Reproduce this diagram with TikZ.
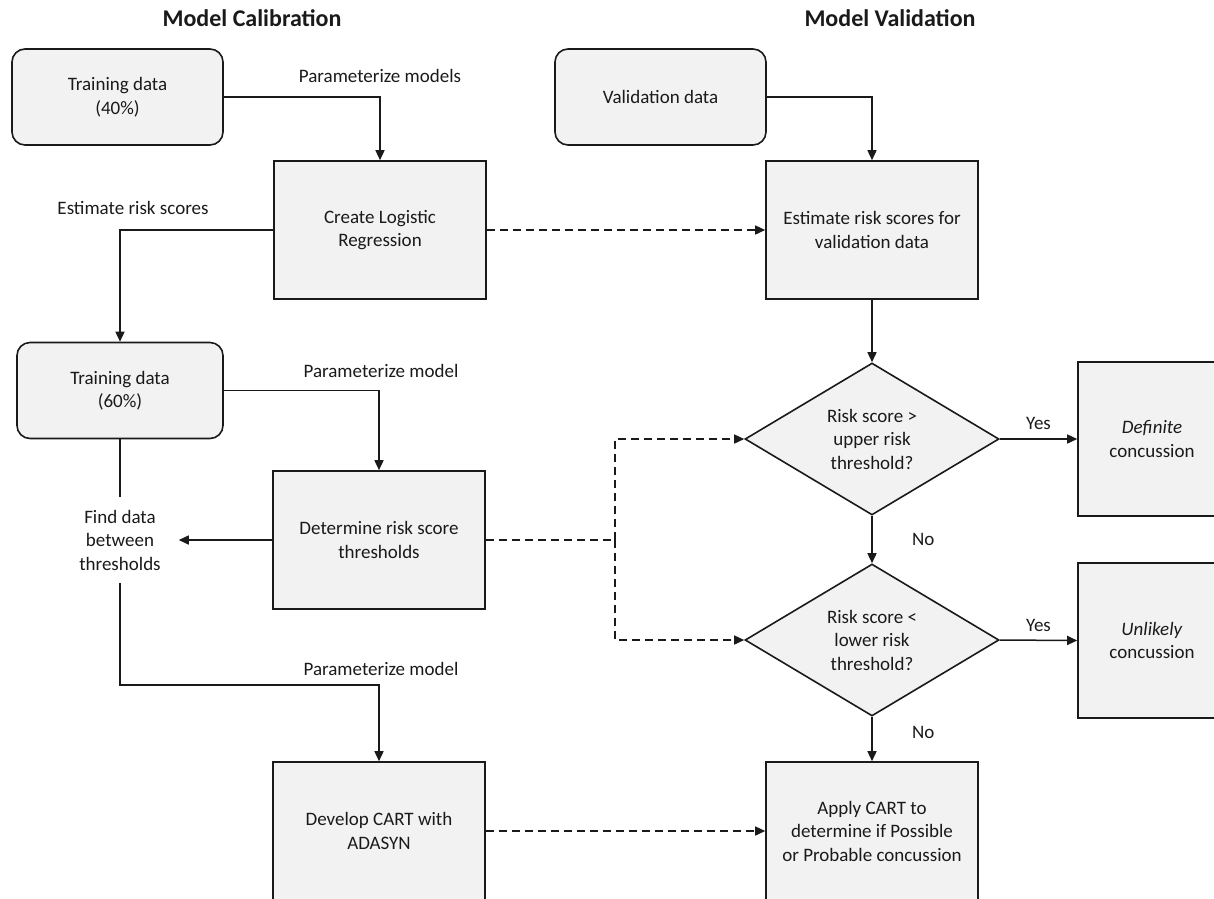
\documentclass[tikz,border=0pt]{standalone}
\usepackage{fontspec}
\setmainfont{Carlito}
\usetikzlibrary{arrows.meta,shapes.geometric}
\definecolor{boxgray}{HTML}{F2F2F2}
\definecolor{inkline}{HTML}{1A1A1A}

\begin{document}
\begin{tikzpicture}[x=1pt,y=-1pt,>={Triangle[length=10pt,width=9pt]},
  color=inkline,line width=1.5pt,
  every node/.style={font=\fontsize{19}{23.5}\selectfont},
  datanode/.style={draw,line width=1.6pt,fill=boxgray,rounded corners=13pt,
    minimum height=96pt,align=center},
  procbox/.style={draw,line width=1.6pt,fill=boxgray,minimum width=212pt,
    minimum height=138pt,align=center},
  endbox/.style={draw,line width=1.6pt,fill=boxgray,minimum width=148pt,
    minimum height=154pt,align=center},
  decision/.style={diamond,draw,line width=1.6pt,fill=boxgray,aspect=1.67,
    minimum width=254pt,minimum height=152pt,inner sep=0pt,align=center},
  title/.style={font=\fontsize{24}{28}\selectfont\bfseries},
  dashline/.style={dash pattern=on 8pt off 5pt}]
\clip (0,0) rectangle (1214,898);

\node[title] (calib) at (252,18) {Model Calibration};
\node[title] (valid) at (890,18) {Model Validation};

% calibration side
\node[datanode,minimum width=211pt] (train40) at (117.5,97) {Training data\\(40\%)};
\node[procbox] (logreg) at (380,230) {Create Logistic\\Regression};
\node[datanode,minimum width=206pt] (train60) at (120,390.5) {Training data\\(60\%)};
\node[procbox] (thresh) at (379,540) {Determine risk score\\thresholds};
\node[align=center,minimum width=116pt,minimum height=84pt] (between) at (120,540)
  {Find data\\between\\thresholds};
\node[procbox] (cart) at (379,831) {Develop CART with\\ADASYN};

% validation side
\node[datanode,minimum width=211pt] (valdata) at (660.5,97) {Validation data};
\node[procbox] (estim) at (872,230) {Estimate risk scores for\\validation data};
\node[decision] (upper) at (872,439) {Risk score >\\upper risk\\threshold?};
\node[endbox] (definite) at (1152,439) {\textit{Definite}\\concussion};
\node[decision] (lower) at (872,640) {Risk score <\\lower risk\\threshold?};
\node[endbox,minimum height=155pt] (unlikely) at (1152,640.5) {\textit{Unlikely}\\concussion};
\node[procbox] (apply) at (872,831) {Apply CART to\\determine if Possible\\or Probable concussion};

\node (lbl1) at (380,76) {Parameterize models};
\node (lbl2) at (133,208) {Estimate risk scores};
\node (lbl3) at (381,371) {Parameterize model};
\node (lbl4) at (381,669) {Parameterize model};

\coordinate (bend) at (120,685);
\coordinate (split) at (615,540);

\draw[->] (train40.east) -| (logreg.north);
\draw[->] (logreg.west) -| (train60.north);
\draw[->] (train60.east) -| (thresh.north);
\draw (train60.south) -- (between.north);
\draw[->] (thresh.west) -- (between.east);
\draw[->] (between.south) -- (bend) -| (cart.north);

\draw[->] (valdata.east) -| (estim.north);
\draw[->] (estim.south) -- (upper.north);
\draw[->] (upper.east) -- node[above=5pt] {Yes} (definite.west);
\draw[->] (upper.south) -- node[right=36pt] {No} (lower.north);
\draw[->] (lower.east) -- node[above=5pt] {Yes} (unlikely.west);
\draw[->] (lower.south) -- node[pos=0.35,right=36pt] {No} (apply.north);

\draw[->,dashline] (logreg.east) -- (estim.west);
\draw[dashline] (thresh.east) -- (split);
\draw[->,dashline] (split) |- (upper.west);
\draw[->,dashline] (split) |- (lower.west);
\draw[->,dashline] (cart.east) -- (apply.west);
\end{tikzpicture}
\end{document}
